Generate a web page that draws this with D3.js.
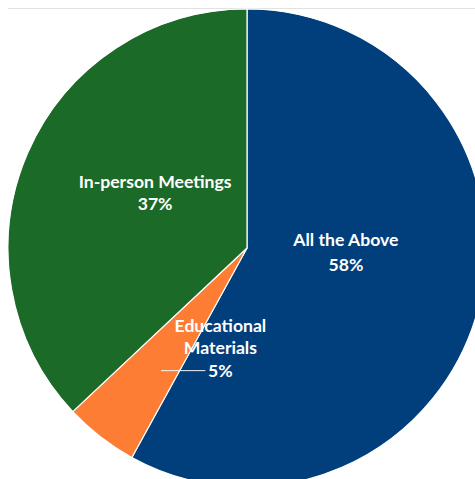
<!DOCTYPE html>
<html>
<head>
<meta charset="utf-8">
<script src="https://cdn.jsdelivr.net/npm/d3@7"></script>
<style>
  html, body { margin: 0; padding: 0; background: #ffffff; }
  svg { display: block; }
  .lbl { font-family: Lato, "Open Sans", sans-serif; font-weight: 700; font-size: 17.6px; fill: #ffffff; }
</style>
</head>
<body>
<svg id="chart" width="475" height="479"></svg>
<script>
// Share of respondents by preferred resource type
const categories = ["All the Above", "Educational Materials", "In-person Meetings"];
const shares = [58, 5, 37];
const sliceColors = ["#013F7C", "#FE7D35", "#1B6A27"];
const labelLines = [["All the Above"], ["Educational", "Materials"], ["In-person Meetings"]];

const W = 475, H = 479;
const cx = 247, cy = 248, radius = 239;

const svg = d3.select("#chart");

// thin divider across the top of the plot area
svg.append("line")
  .attr("x1", 8).attr("x2", W).attr("y1", 8.5).attr("y2", 8.5)
  .attr("stroke", "#e2e2e2").attr("stroke-width", 1);

const pie = d3.pie().sort(null).value(d => d)
  .startAngle(0).endAngle(2 * Math.PI);
const arcs = pie(shares);

const arc = d3.arc().innerRadius(0).outerRadius(radius);

const g = svg.append("g").attr("transform", `translate(${cx},${cy})`);

g.selectAll("path.slice")
  .data(arcs)
  .join("path")
  .attr("class", "slice")
  .attr("d", arc)
  .attr("fill", (d, i) => sliceColors[i])
  .attr("stroke", "#ffffff")
  .attr("stroke-width", 1.2)
  .attr("stroke-linejoin", "round");

// label placement: position along each slice's mid-angle, with an angular nudge
const placement = [
  { r: 99, dAngle: -0.206, lineH: 25 },
  { r: 103.6, dAngle: -0.40, lineH: 22.5 },
  { r: 107, dAngle: 0.129, lineH: 22 }
];

arcs.forEach((a, i) => {
  const p = placement[i];
  const amid = (a.startAngle + a.endAngle) / 2;
  const ang = amid + p.dAngle;
  const x = p.r * Math.sin(ang);
  const y = -p.r * Math.cos(ang);
  const lines = labelLines[i].concat([a.data + "%"]);
  const top = y - (lines.length - 1) * p.lineH / 2;
  const t = g.append("text").attr("class", "lbl").attr("text-anchor", "middle");
  lines.forEach((s, k) => {
    t.append("tspan").attr("x", x).attr("y", top + k * p.lineH + 6).text(s);
  });

  // small slice gets a leader line from inside the slice to its value
  if (shares[i] < 10) {
    const sx = radius * 0.628 * Math.sin(amid - 0.05);
    const ly = top + (lines.length - 1) * p.lineH;
    g.append("line")
      .attr("x1", sx).attr("y1", ly)
      .attr("x2", x - 15).attr("y2", ly)
      .attr("stroke", "#f4f4f4").attr("stroke-width", 1);
  }
});
</script>
</body>
</html>
